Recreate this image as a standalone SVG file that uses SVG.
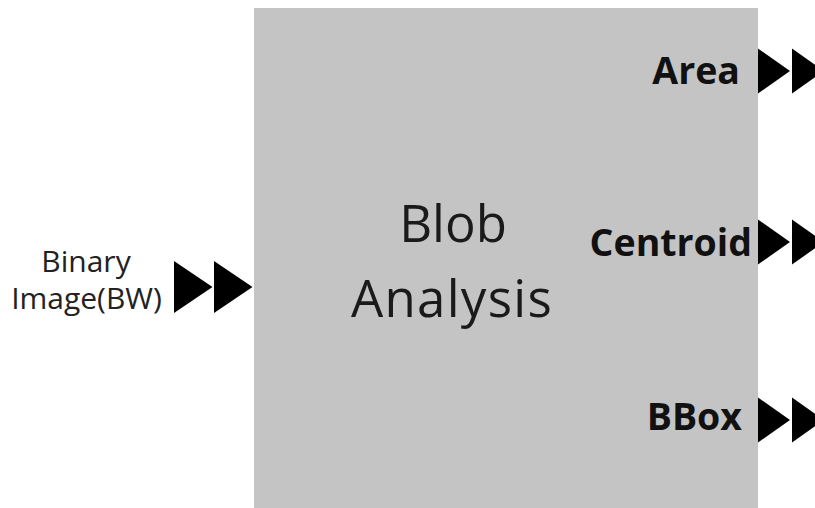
<svg xmlns="http://www.w3.org/2000/svg" xmlns:xlink="http://www.w3.org/1999/xlink" width="815" height="508" viewBox="0 0 815 508">
<style>
.box{fill:#c4c4c4;}
.title{font-family:"Open Sans","Liberation Sans",sans-serif;font-size:51px;fill:#1a1a1a;text-anchor:middle;}
.in{font-family:"Open Sans","Liberation Sans",sans-serif;font-size:30px;fill:#222;text-anchor:middle;}
.out{font-family:"Open Sans","Liberation Sans",sans-serif;font-size:37.5px;font-weight:bold;fill:#111;text-anchor:end;}
.tri{fill:#000;}
</style>
<defs>
<polygon id="triL" class="tri" points="0,-26 0,26 38.5,0"/>
<polygon id="triR" class="tri" points="0,-22.5 0,22.5 32,0"/>
</defs>
<rect width="815" height="508" fill="#fff"/>
<g id="blob-analysis">
<rect class="box" x="254" y="8" width="504" height="510"/>
<text class="title" x="453" y="242">Blob</text>
<text class="title" x="452" y="317" letter-spacing="1.3">Analysis</text>
</g>
<g id="input-bw">
<text class="in" x="86" y="272">Binary</text>
<text class="in" x="86.5" y="309">Image(BW)</text>
</g>
<g id="output-area">
<text class="out" x="740" y="84">Area</text>
</g>
<g id="output-centroid">
<text class="out" x="752" y="256">Centroid</text>
</g>
<g id="output-bbox">
<text class="out" x="742" y="430">BBox</text>
</g>
<g id="connectors">
<use xlink:href="#triL" x="174" y="287"/>
<use xlink:href="#triL" x="214" y="287"/>
<use xlink:href="#triR" x="758" y="71"/>
<use xlink:href="#triR" x="792" y="71"/>
<use xlink:href="#triR" x="758" y="242"/>
<use xlink:href="#triR" x="792" y="242"/>
<use xlink:href="#triR" x="758" y="420"/>
<use xlink:href="#triR" x="792" y="420"/>
</g>
</svg>
